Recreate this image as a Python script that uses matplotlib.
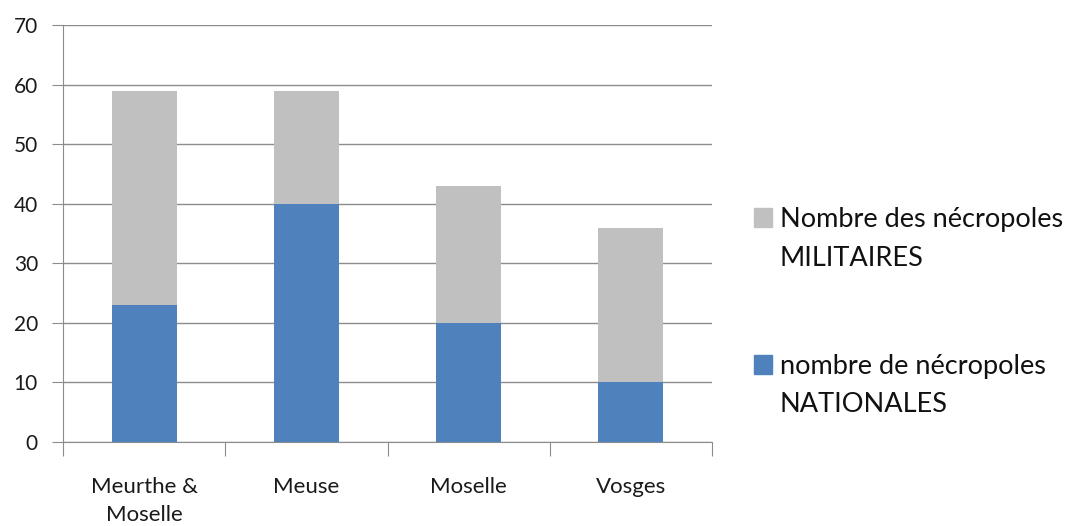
import matplotlib
matplotlib.use("Agg")
import matplotlib.pyplot as plt
from matplotlib.patches import Rectangle
import numpy as np

categories = ["Meurthe &\nMoselle", "Meuse", "Moselle", "Vosges"]
nationales = [23, 40, 20, 10]
militaires = [36, 19, 23, 26]
label_nat = "nombre de nécropoles\nNATIONALES"
label_mil = "Nombre des nécropoles\nMILITAIRES"
yticks = [0, 10, 20, 30, 40, 50, 60, 70]

COL_NAT = "#4F81BD"
COL_MIL = "#C0C0C0"

plt.rcParams['font.family'] = ['Lato', 'DejaVu Sans']

W, H = 1090, 526
fig = plt.figure(figsize=(W/100, H/100), dpi=100)
ax = fig.add_axes([63/W, 1 - 442/H, (712-63)/W, (442-25)/H])

x = np.arange(len(categories))
ax.bar(x, nationales, width=0.4, color=COL_NAT, zorder=3)
ax.bar(x, militaires, bottom=nationales, width=0.4, color=COL_MIL, zorder=3)

ax.set_xlim(-0.5, len(categories) - 0.5)
ax.set_ylim(0, 70)
ax.set_yticks(yticks)
ax.set_yticklabels([str(v) for v in yticks], fontsize=15, color="#1a1a1a")
ax.yaxis.grid(True, color="#8C8C8C", linewidth=1.0, zorder=0)
ax.set_axisbelow(True)

for s in ["top", "right"]:
    ax.spines[s].set_visible(False)
ax.spines["left"].set_color("#8C8C8C")
ax.spines["bottom"].set_color("#8C8C8C")

ax.set_xticks(np.arange(-0.5, len(categories), 1.0))
ax.set_xticklabels([])
ax.set_xticks(x, minor=True)
ax.set_xticklabels(categories, minor=True, fontsize=16, color="#1a1a1a",
                   linespacing=1.5)
ax.tick_params(axis="x", which="major", length=10, color="#8C8C8C", direction="out")
ax.tick_params(axis="x", which="minor", length=0, pad=25)
ax.tick_params(axis="y", length=8, color="#8C8C8C", direction="out", pad=10)

# Legend (drawn manually to match layout: square aligned with first line)
entries = [(label_mil, COL_MIL, 227), (label_nat, COL_NAT, 374)]
for label, col, base in entries:
    fig.add_artist(Rectangle((754/W, 1 - (base)/H), 18/W, 19/H,
                             transform=fig.transFigure, color=col))
    for k, line in enumerate(label.split("\n")):
        fig.text(780/W, 1 - (base + 38.5*k)/H, line, fontsize=19.5,
                 color="#111111", va="baseline", ha="left")

fig.savefig("out.png", dpi=100)
